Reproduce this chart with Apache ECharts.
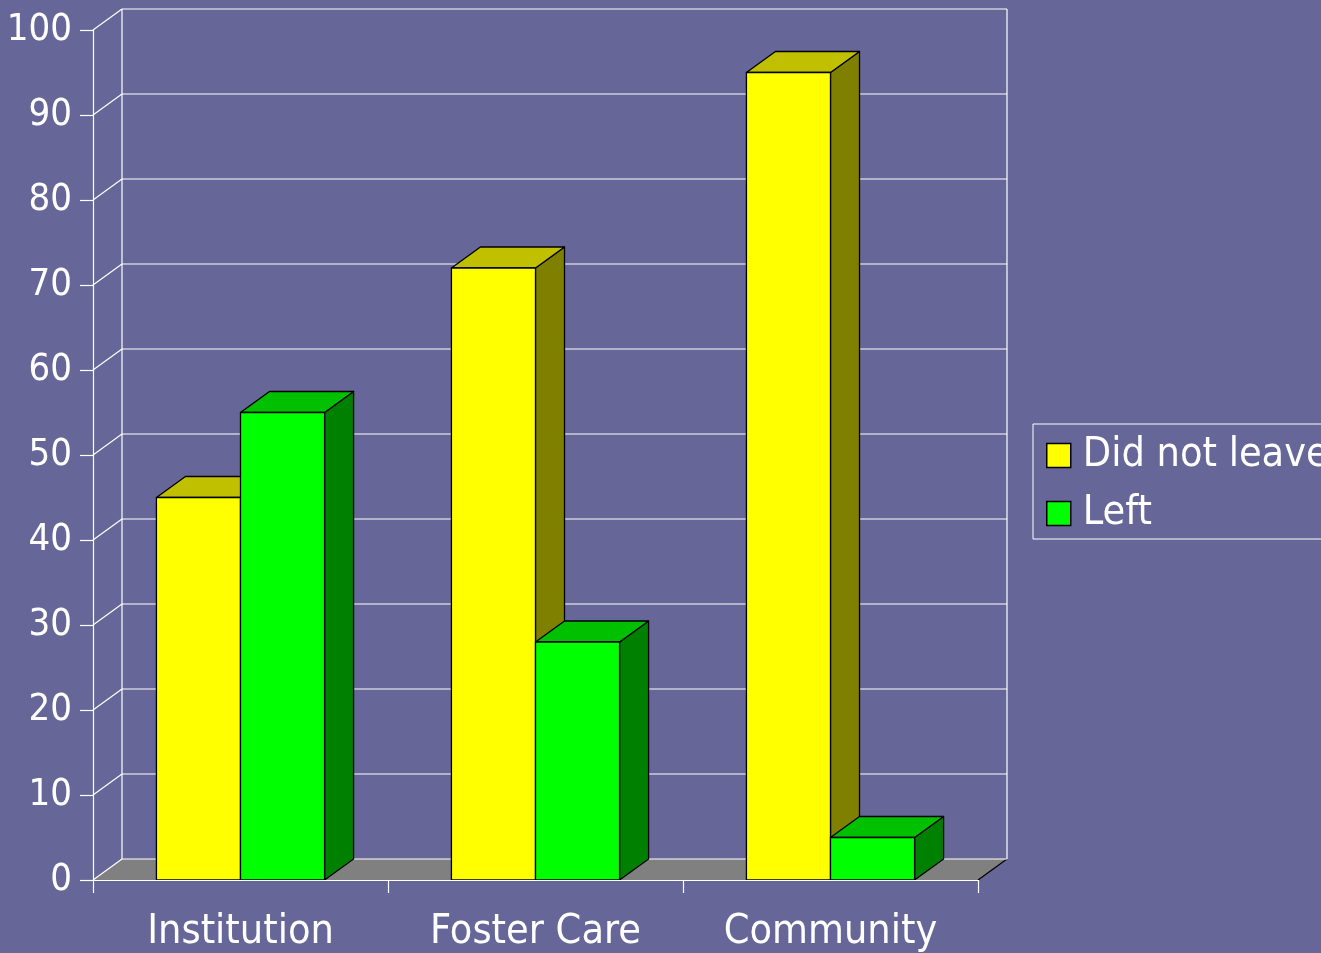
<!DOCTYPE html>
<html>
<head>
<meta charset="utf-8">
<style>
  html, body { margin: 0; padding: 0; background: #666699; }
  #chart { width: 1321px; height: 953px; }
</style>
<script src="https://cdn.jsdelivr.net/npm/echarts@6/dist/echarts.min.js"></script>
</head>
<body>
<div id="chart"></div>
<script>
// Share of children who did / did not leave, by placement type (percent)
const categories = ['Institution', 'Foster Care', 'Community'];
const didNotLeave = [45, 72, 95];
const left = [55, 28, 5];
const yTicks = [0, 10, 20, 30, 40, 50, 60, 70, 80, 90, 100];

const FONT = "'DejaVu Sans Condensed', 'DejaVu Sans', sans-serif";
// depth of the pseudo-3D box (pixels right / up)
const DX = 29, DY = -21;
const BAR_RATIO = 0.285;

const YELLOW = { front: '#ffff00', top: '#c0c000', side: '#808000' };
const GREEN = { front: '#00ff00', top: '#00c000', side: '#008000' };

// back wall, left wall, floor and their grid lines
function renderFrame(params, api) {
  const v = api.value(1);
  const band = api.size([1, 0])[0];
  const p = api.coord([0, v]);
  const xL = p[0] - band / 2;
  const y = p[1];
  const xR = api.coord([categories.length - 1, v])[0] + band / 2;
  const line = { stroke: '#ffffff', lineWidth: 1.2 };
  const children = [];
  if (params.dataIndex === 0) {
    const yTop = api.coord([0, yTicks[yTicks.length - 1]])[1];
    children.push({
      type: 'polygon',
      shape: { points: [[xL, y], [xR, y], [xR + DX, y + DY], [xL + DX, y + DY]] },
      style: { fill: '#808080' }
    });
    children.push({
      type: 'line',
      shape: { x1: xR, y1: y, x2: xR + DX, y2: y + DY },
      style: { stroke: '#000000', lineWidth: 1.2 }
    });
    children.push({
      type: 'line',
      shape: { x1: xL + DX, y1: y + DY, x2: xL + DX, y2: yTop + DY },
      style: line
    });
    children.push({
      type: 'line',
      shape: { x1: xR + DX, y1: y + DY, x2: xR + DX, y2: yTop + DY },
      style: line
    });
  }
  children.push({
    type: 'line',
    shape: { x1: xL, y1: y, x2: xL + DX, y2: y + DY },
    style: line
  });
  children.push({
    type: 'line',
    shape: { x1: xL + DX, y1: y + DY, x2: xR + DX, y2: y + DY },
    style: line
  });
  return { type: 'group', children: children };
}

// one 3D box bar; side = -1 puts it left of the category centre, +1 right
function makeBarRenderer(side, colors) {
  return function (params, api) {
    const cat = api.value(0);
    const val = api.value(1);
    const base = api.coord([cat, 0]);
    const top = api.coord([cat, val]);
    const w = api.size([1, 0])[0] * BAR_RATIO;
    const x0 = side < 0 ? base[0] - w : base[0];
    const x1 = x0 + w;
    const yB = base[1], yT = top[1];
    const edge = { stroke: '#000000', lineWidth: 1.3, lineJoin: 'round' };
    return {
      type: 'group',
      children: [
        {
          type: 'polygon',
          shape: { points: [[x1, yT], [x1 + DX, yT + DY], [x1 + DX, yB + DY], [x1, yB]] },
          style: Object.assign({ fill: colors.side }, edge)
        },
        {
          type: 'polygon',
          shape: { points: [[x0, yT], [x1, yT], [x1 + DX, yT + DY], [x0 + DX, yT + DY]] },
          style: Object.assign({ fill: colors.top }, edge)
        },
        {
          type: 'rect',
          shape: { x: x0, y: yT, width: w, height: yB - yT },
          style: Object.assign({ fill: colors.front }, edge)
        }
      ]
    };
  };
}

const chart = echarts.init(document.getElementById('chart'));
chart.setOption({
  backgroundColor: '#666699',
  animation: false,
  textStyle: { fontFamily: FONT },
  grid: { left: 93, right: 343, top: 30, bottom: 73, containLabel: false },
  legend: {
    left: 1033,
    top: 424,
    orient: 'vertical',
    padding: [11, 10, 5, 13],
    itemGap: 17,
    itemWidth: 24,
    itemHeight: 24,
    borderColor: '#ffffff',
    borderWidth: 1,
    icon: 'rect',
    textStyle: { color: '#ffffff', fontSize: 41, fontFamily: FONT, lineHeight: 36, padding: [0, 0, 0, 7] },
    data: [
      { name: 'Did not leave', itemStyle: { color: YELLOW.front, borderColor: '#000', borderWidth: 1.5 } },
      { name: 'Left', itemStyle: { color: GREEN.front, borderColor: '#000', borderWidth: 1.5 } }
    ]
  },
  xAxis: {
    type: 'category',
    data: categories,
    z: 5,
    axisLine: { lineStyle: { color: '#ffffff', width: 1.2 } },
    axisTick: { show: true, length: 13, lineStyle: { color: '#ffffff', width: 1.2 } },
    axisLabel: { color: '#ffffff', fontSize: 41, fontFamily: FONT, margin: 32 },
    splitLine: { show: false }
  },
  yAxis: {
    type: 'value',
    min: 0,
    max: 100,
    interval: 10,
    z: 5,
    axisLine: { show: true, lineStyle: { color: '#ffffff', width: 1.2 } },
    axisTick: { show: true, length: 13, lineStyle: { color: '#ffffff', width: 1.2 } },
    axisLabel: { color: '#ffffff', fontSize: 38, fontFamily: FONT, margin: 21 },
    splitLine: { show: false }
  },
  series: [
    {
      type: 'custom',
      name: 'frame',
      z: 1,
      clip: false,
      silent: true,
      renderItem: renderFrame,
      data: yTicks.map(function (v) { return [0, v]; })
    },
    {
      type: 'custom',
      name: 'Did not leave',
      z: 2,
      clip: false,
      itemStyle: { color: YELLOW.front },
      renderItem: makeBarRenderer(-1, YELLOW),
      data: didNotLeave.map(function (v, i) { return [i, v]; })
    },
    {
      type: 'custom',
      name: 'Left',
      z: 3,
      clip: false,
      itemStyle: { color: GREEN.front },
      renderItem: makeBarRenderer(1, GREEN),
      data: left.map(function (v, i) { return [i, v]; })
    }
  ]
});
</script>
</body>
</html>
